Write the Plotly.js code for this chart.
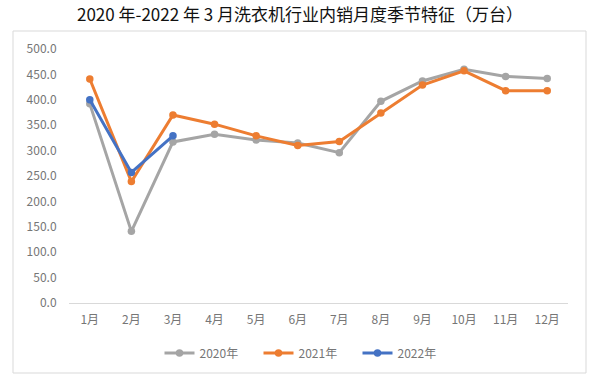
<!DOCTYPE html>
<html><head><meta charset="utf-8">
<script src="https://cdn.plot.ly/plotly-3.0.1.min.js"></script>
<style>html,body{margin:0;padding:0;background:#fff}#c{width:600px;height:382px}</style>
</head><body><div id="c"></div>
<script>
const months = ['1月','2月','3月','4月','5月','6月','7月','8月','9月','10月','11月','12月'];
const v2020 = [392,141,317,332,321,315,296,397,437,460,446,442];
const v2021 = [441,239,370,352,329,310,318,374,429,457,418,418];
const v2022 = [400,257,329];
const seriesNames = ['2020年','2021年','2022年'];
const colors = ['#A5A5A5','#ED7D31','#4472C4'];

const W=600,H=382, L=69,R=32,T=49,B=79;
const pw=W-L-R, ph=H-T-B;
const px=(x)=>(x-L)/pw, py=(y)=>(H-B-y)/ph;
const font="'Noto Sans CJK SC','Noto Sans',sans-serif";

function tr(name,y,c){return {x:months.slice(0,y.length),y:y,name:name,type:'scatter',mode:'lines+markers',
 line:{color:c,width:3},marker:{color:c,size:7.5},hoverinfo:'skip'};}
const data=[tr(seriesNames[0],v2020,colors[0]),tr(seriesNames[1],v2021,colors[1]),tr(seriesNames[2],v2022,colors[2])];

const layout={width:W,height:H,margin:{l:L,r:R,t:T,b:B,autoexpand:false},paper_bgcolor:'#fff',plot_bgcolor:'#fff',
 font:{family:font,color:'#767676',size:12},
 title:{text:'2020 年-2022 年 3 月洗衣机行业内销月度季节特征（万台）',font:{family:font,size:17,color:'#111'},
   x:0.5,xref:'container',xanchor:'center',y:1-15/H,yref:'container',yanchor:'middle'},
 xaxis:{type:'category',categoryarray:months,range:[-0.5,11.5],showgrid:false,zeroline:false,showline:true,linecolor:'#D9D9D9',linewidth:1,
   automargin:false,tickangle:0,ticks:'outside',ticklen:6,tickcolor:'rgba(0,0,0,0)',tickfont:{size:12,color:'#767676'}},
 yaxis:{range:[0,500],dtick:50,tickformat:'.1f',showgrid:false,zeroline:false,showline:false,automargin:false,
   ticks:'outside',ticklen:9,tickcolor:'rgba(0,0,0,0)',tickfont:{size:12,color:'#767676'}},
 showlegend:true,
 legend:{orientation:'h',x:px(308),xanchor:'center',y:py(353),yanchor:'middle',font:{size:12,color:'#767676'},
   itemwidth:30,entrywidth:54,entrywidthmode:'pixels',traceorder:'normal',bgcolor:'rgba(0,0,0,0)'},
 shapes:[{type:'rect',xref:'paper',yref:'paper',x0:px(13),x1:px(586),y0:py(373),y1:py(31),line:{color:'#D9D9D9',width:1},fillcolor:'rgba(0,0,0,0)',layer:'below'}]
};
Plotly.newPlot('c',data,layout,{displayModeBar:false,staticPlot:true});
</script></body></html>
